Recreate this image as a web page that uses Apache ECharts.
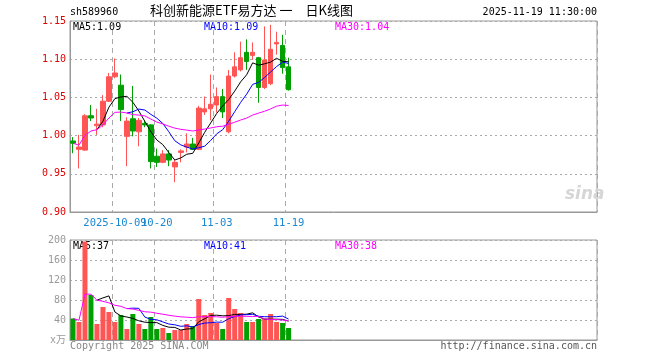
<!DOCTYPE html>
<html><head><meta charset="utf-8">
<script src="https://cdn.jsdelivr.net/npm/echarts@6/dist/echarts.min.js"></script>
<style>html,body{margin:0;padding:0;background:#fff}#c{width:660px;height:360px}</style>
</head><body><div id="c"></div>
<script>
const dates = ['2025-09-22','2025-09-23','2025-09-24','2025-09-25','2025-09-26','2025-09-29','2025-09-30',
 '2025-10-09','2025-10-10','2025-10-13','2025-10-14','2025-10-15','2025-10-16','2025-10-17','2025-10-20',
 '2025-10-21','2025-10-22','2025-10-23','2025-10-24','2025-10-27','2025-10-28','2025-10-29','2025-10-30','2025-10-31',
 '2025-11-03','2025-11-04','2025-11-05','2025-11-06','2025-11-07','2025-11-10','2025-11-11','2025-11-12','2025-11-13','2025-11-14',
 '2025-11-17','2025-11-18','2025-11-19'];
const opens  = [0.993,0.982,0.981,1.026,1.013,1.014,1.045,1.077,1.066,0.999,1.022,1.005,1.016,1.014,0.973,0.965,0.976,0.959,0.978,0.985,0.989,0.982,1.031,1.035,1.040,1.051,1.005,1.078,1.086,1.109,1.105,1.102,1.063,1.068,1.120,1.118,1.090];
const closes = [0.990,0.985,1.026,1.023,1.015,1.045,1.077,1.082,1.034,1.019,1.006,1.020,1.014,0.966,0.965,0.976,0.968,0.965,0.980,0.989,0.982,1.036,1.035,1.041,1.051,1.031,1.078,1.090,1.102,1.097,1.109,1.063,1.099,1.113,1.122,1.089,1.060];
const lows   = [0.977,0.957,0.980,1.019,1.001,1.011,1.044,1.075,1.019,0.960,0.999,0.986,1.011,0.957,0.959,0.964,0.960,0.939,0.965,0.978,0.981,0.981,1.027,1.020,1.030,1.023,1.003,1.076,1.084,1.086,1.099,1.043,1.061,1.066,1.106,1.081,1.059];
const highs  = [0.998,1.001,1.028,1.040,1.035,1.053,1.082,1.101,1.080,1.024,1.065,1.023,1.020,1.015,0.983,0.981,0.981,0.968,0.982,1.003,0.997,1.039,1.051,1.080,1.063,1.061,1.086,1.109,1.123,1.126,1.122,1.103,1.143,1.145,1.136,1.132,1.102];
const volumes = [43,36,197,90,32,66,56,36,50,22,52,32,22,46,22,24,14,20,20,32,28,82,50,54,34,22,84,62,54,36,36,42,42,52,36,34,24];
const tickDates  = ['2025-10-09','2025-10-20','2025-11-03','2025-11-19'];
const tickLabels = ['2025-10-09','10-20','11-03','11-19'];
const priceLegend = ['MA5:1.09','MA10:1.09','MA30:1.04'];
const volLegend = ['MA5:37','MA10:41','MA30:38'];
const TOTAL_SLOTS = 88;

const UP = '#ff5555', DOWN = '#00a000';
const MONO = 'DejaVu Sans Mono';

function ma(arr, n, partial) {
  return arr.map((_, i) => {
    if (i < n - 1 && !partial) return '-';
    const s = Math.max(0, i - n + 1);
    let sum = 0; for (let j = s; j <= i; j++) sum += arr[j];
    return +(sum / (i - s + 1)).toFixed(4);
  });
}
const cats = dates.concat(Array.from({length: TOTAL_SLOTS - dates.length}, (_, i) => 'pad' + i));
const tickIdx = tickDates.map(d => dates.indexOf(d));
const kData = dates.map((_, i) => [opens[i], closes[i], lows[i], highs[i]]);
const vData = volumes.map((v, i) => ({value: v, itemStyle: {color: closes[i] >= opens[i] ? UP : DOWN}}));

const lineS = (name, data, color, xi, yi) => ({
  type: 'line', name, data, xAxisIndex: xi, yAxisIndex: yi, showSymbol: false, symbol: 'none',
  lineStyle: {color, width: 1}, silent: true, animation: false
});

const labelStyle = {color: '#1a87d0', fontFamily: MONO, fontSize: 10.5, margin: 6, hideOverlap: false,
  formatter: (v) => { const k = tickDates.indexOf(v); return k >= 0 ? tickLabels[k] : ''; }};

const chart = echarts.init(document.getElementById('c'), null, {renderer: 'canvas'});
const splitV = {show: true, interval: (i) => tickIdx.includes(i), lineStyle: {color: '#aaa', type: [5, 4], width: 1}};
chart.setOption({
  animation: false,
  backgroundColor: '#fff',
  grid: [
    {left: 70, right: 63, top: 21, height: 191, show: true, borderColor: '#999', borderWidth: 1},
    {left: 70, right: 63, top: 240, height: 100, show: true, borderColor: '#999', borderWidth: 1}
  ],
  xAxis: [
    {type: 'category', gridIndex: 0, data: cats, boundaryGap: true,
     axisLine: {show: true, lineStyle: {color: '#999'}}, axisTick: {show: false},
     axisLabel: Object.assign({interval: (i) => tickIdx.slice(1).includes(i)}, labelStyle),
     splitLine: splitV},
    {type: 'category', gridIndex: 1, data: cats, boundaryGap: true,
     axisLine: {show: true, lineStyle: {color: '#999'}}, axisTick: {show: false}, axisLabel: {show: false},
     splitLine: splitV},
    {type: 'category', gridIndex: 0, data: cats, boundaryGap: true, position: 'bottom',
     axisLine: {show: false}, axisTick: {show: false}, splitLine: {show: false},
     axisLabel: Object.assign({interval: (i) => i === tickIdx[0]}, labelStyle)}
  ],
  yAxis: [
    {type: 'value', gridIndex: 0, min: 0.90, max: 1.15, interval: 0.05,
     axisLine: {show: true, lineStyle: {color: '#999'}}, axisTick: {show: false},
     axisLabel: {formatter: (v) => v.toFixed(2), color: '#e00000', fontFamily: MONO, fontSize: 10, margin: 4},
     splitLine: {show: true, lineStyle: {color: '#aaa', type: [2, 3]}}},
    {type: 'value', gridIndex: 1, min: 0, max: 200, interval: 40,
     axisLine: {show: true, lineStyle: {color: '#999'}}, axisTick: {show: false},
     axisLabel: {formatter: (v) => v === 0 ? 'x万' : String(v), color: '#999', fontFamily: MONO + ', Noto Sans CJK SC', fontSize: 10, margin: 4},
     splitLine: {show: true, lineStyle: {color: '#aaa', type: [2, 3]}}}
  ],
  series: [
    {type: 'candlestick', name: 'K', data: kData, xAxisIndex: 0, yAxisIndex: 0, barWidth: 5,
     itemStyle: {color: UP, color0: DOWN, borderColor: UP, borderColor0: DOWN, borderWidth: 1}},
    lineS('MA5', ma(closes, 5, false), '#000000', 0, 0),
    lineS('MA10', ma(closes, 10, false), '#0000ff', 0, 0),
    lineS('MA30', ma(closes, 30, true), '#ff00ff', 0, 0),
    {type: 'bar', name: 'VOL', data: vData, xAxisIndex: 1, yAxisIndex: 1, barWidth: 5},
    lineS('VMA5', ma(volumes, 5, false), '#000000', 1, 1),
    lineS('VMA10', ma(volumes, 10, false), '#0000ff', 1, 1),
    lineS('VMA30', ma(volumes, 30, true), '#ff00ff', 1, 1)
  ],
  graphic: [
    {type: 'text', left: 70, top: 7, style: {text: 'sh589960', font: '10px ' + MONO, fill: '#000'}},
    {type: 'text', left: 150, top: 4, style: {text: '科创新能源ETF易方达 一　日K线图', font: '13px "Noto Sans CJK SC"', fill: '#000'}},
    {type: 'text', right: 63, top: 7, style: {text: '2025-11-19 11:30:00', font: '10px ' + MONO, fill: '#000'}},
    {type: 'text', left: 73, top: 22, style: {text: priceLegend[0], font: '10px ' + MONO, fill: '#000'}},
    {type: 'text', left: 204, top: 22, style: {text: priceLegend[1], font: '10px ' + MONO, fill: '#0000ff'}},
    {type: 'text', left: 335, top: 22, style: {text: priceLegend[2], font: '10px ' + MONO, fill: '#ff00ff'}},
    {type: 'text', left: 73, top: 241, style: {text: volLegend[0], font: '10px ' + MONO, fill: '#000'}},
    {type: 'text', left: 204, top: 241, style: {text: volLegend[1], font: '10px ' + MONO, fill: '#0000ff'}},
    {type: 'text', left: 335, top: 241, style: {text: volLegend[2], font: '10px ' + MONO, fill: '#ff00ff'}},
    {type: 'text', left: 70, top: 341, style: {text: 'Copyright 2025 SINA.COM', font: '10px ' + MONO, fill: '#888'}},
    {type: 'text', right: 63, top: 341, style: {text: 'http://finance.sina.com.cn', font: '10px ' + MONO, fill: '#555'}},
    {type: 'text', left: 565, top: 186, style: {text: 'sina', font: 'italic bold 17px "DejaVu Sans"', fill: '#d6d6d6'}}
  ]
});
</script></body></html>
